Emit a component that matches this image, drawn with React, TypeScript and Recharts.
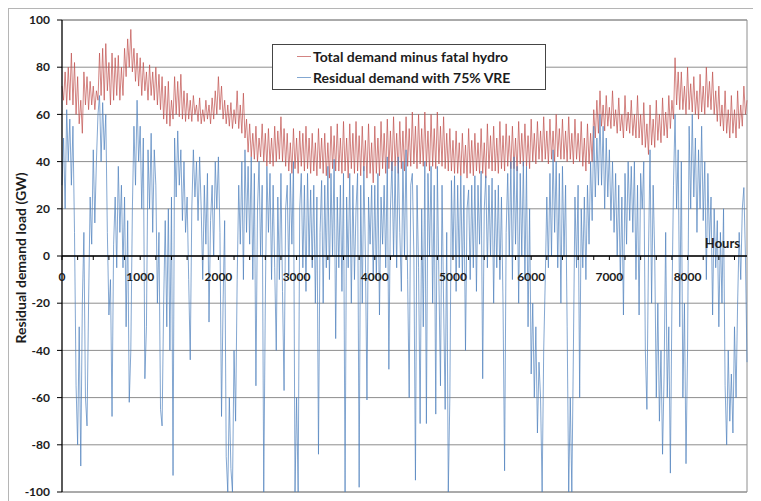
import React from 'react';
import { LineChart, Line, XAxis, YAxis, CartesianGrid, ReferenceLine, Legend } from 'recharts';

const SAMPLE_STEP_H = 20;

const TOTAL_DEMAND: number[] = [
  72, 66, 78, 64, 80, 66, 86, 64, 82, 60, 76, 56, 66, 52, 78, 64, 76, 62, 74, 64,
  72, 62, 70, 66, 86, 68, 88, 66, 90, 70, 82, 64, 86, 66, 84, 68, 85, 66, 80, 68,
  88, 76, 92, 80, 96, 78, 88, 74, 86, 72, 84, 68, 82, 70, 78, 66, 81, 68, 78, 66,
  80, 64, 77, 62, 76, 58, 72, 56, 74, 55, 66, 58, 76, 60, 74, 59, 77, 58, 70, 57,
  69, 58, 66, 57, 68, 60, 64, 57, 67, 56, 62, 57, 66, 58, 64, 56, 67, 58, 70, 60,
  76, 62, 72, 58, 66, 56, 64, 55, 65, 54, 62, 56, 70, 54, 64, 52, 69, 50, 58, 44,
  56, 42, 52, 41, 55, 40, 50, 42, 56, 40, 52, 38, 54, 39, 50, 38, 55, 40, 53, 41,
  59, 40, 54, 38, 52, 36, 48, 35, 54, 37, 50, 35, 53, 38, 52, 36, 55, 37, 50, 35,
  52, 36, 48, 34, 54, 37, 50, 35, 52, 34, 48, 33, 55, 37, 51, 36, 56, 36, 50, 35,
  57, 36, 50, 33, 56, 37, 52, 35, 57, 36, 51, 34, 55, 36, 49, 33, 56, 35, 48, 31,
  55, 35, 50, 34, 57, 37, 52, 35, 58, 37, 53, 36, 59, 38, 52, 35, 57, 37, 53, 36,
  59, 38, 54, 38, 61, 39, 55, 37, 60, 39, 54, 38, 61, 38, 53, 36, 60, 38, 54, 37,
  61, 39, 55, 38, 59, 37, 52, 36, 54, 36, 49, 35, 53, 35, 48, 34, 52, 35, 47, 33,
  54, 35, 49, 34, 52, 36, 48, 35, 54, 35, 48, 33, 56, 37, 51, 36, 55, 36, 50, 35,
  57, 37, 51, 36, 56, 38, 51, 37, 55, 37, 50, 36, 57, 39, 52, 38, 56, 38, 51, 37,
  58, 40, 52, 39, 57, 41, 53, 40, 59, 41, 53, 39, 58, 41, 53, 40, 60, 42, 54, 41,
  58, 41, 53, 40, 59, 41, 52, 39, 58, 41, 52, 40, 57, 38, 50, 36, 56, 39, 52, 40,
  62, 50, 66, 52, 70, 55, 64, 53, 68, 55, 63, 54, 70, 55, 62, 52, 67, 53, 60, 50,
  68, 53, 61, 52, 66, 51, 60, 50, 68, 50, 60, 47, 65, 46, 56, 43, 64, 47, 58, 46,
  66, 49, 60, 48, 67, 51, 61, 50, 68, 54, 66, 58, 84, 64, 78, 62, 78, 62, 72, 60,
  80, 62, 73, 61, 76, 60, 70, 58, 77, 61, 72, 60, 80, 63, 74, 62, 78, 60, 70, 57,
  72, 55, 64, 53, 70, 52, 62, 50, 68, 52, 62, 50, 70, 54, 64, 55, 72, 60, 66,
];

const RESIDUAL_DEMAND: number[] = [
  30, 50, 20, 62, 40, 58, 30, 55, 10, -55, -80, -30, -89, -20, 10, -60, -72, -20, 25, 5,
  45, 14, 40, 60, 68, 40, 65, 45, 60, 10, -25, -10, -68, 5, 25, -5, 38, 10, 30, -5,
  25, -30, 15, -62, -40, 20, 55, 30, 66, 40, 55, 20, 50, -52, -30, 45, 20, 52, 10, 45,
  30, -20, 10, -65, -72, -20, 15, -30, 20, -40, 25, -93, 50, 25, 53, 30, 45, 15, 40, 10,
  25, -10, -44, 20, 45, 25, 40, 15, 42, 20, -10, 30, 5, 35, -28, 15, 30, 0, 40, 20,
  42, 10, -68, -20, 15, -85, -100, -60, -90, -100, -40, -70, -10, 30, 5, 40, -10, 45, 10, 38,
  5, 42, -10, 35, -55, 20, 40, 0, 30, -100, -20, 38, 10, 35, -10, 30, -5, -40, 25, -10,
  35, -15, -57, 20, 30, -8, 35, 5, 40, -100, -60, -100, 20, 35, -5, 30, -15, 35, 0, 28,
  -5, 30, -20, 25, -84, 10, 32, -20, 30, -5, 38, -10, 35, 0, 41, -35, 25, -5, 30, -15,
  35, -100, 25, -5, 35, -20, 30, -10, 20, 35, -98, 30, -20, 38, 0, -61, 25, 5, 30, -10,
  30, -10, 35, -25, 25, 5, 30, -5, 42, -48, 20, 40, 0, 38, -5, 42, 10, -15, 40, 0,
  45, -10, -60, 30, 35, 0, -95, 30, -5, -71, 20, -30, 40, -71, 35, 0, 38, -20, 30, -67,
  38, -10, -55, 30, -20, -65, 10, -100, -60, 32, 0, 34, -15, 30, -5, 34, -10, 30, -40, 20,
  28, -10, 30, -5, 34, -15, 30, 5, 36, -52, 20, 34, -5, 30, 0, 33, -20, 28, -5, 30,
  -10, 25, -20, -91, 10, 35, 0, 40, -10, 42, 5, 38, -20, 35, 0, 40, -10, 38, -30, 20,
  -50, -20, -60, -30, -75, -45, -60, -100, -40, -10, 25, -5, 35, 0, 45, 10, 40, -5, 35, -20,
  38, 0, 30, -30, -100, -60, -100, -40, 25, -5, 30, -60, 20, -5, 25, -10, 30, 5, 40, 15,
  55, 25, 50, 30, 60, 30, 55, 20, 50, 25, 45, 15, 40, 10, 35, 0, 30, -10, 25, -25,
  35, 5, 40, 15, 38, 10, 40, -10, 30, -25, 35, 20, 40, -40, -65, 0, 45, -20, 30, 0,
  -60, -20, -70, -40, -84, -50, 10, -60, -30, -92, -20, 30, 60, 20, 45, -30, 40, -60, -20, -88,
  -40, 55, 20, 60, 25, 50, 10, 45, 20, 55, 15, 40, -10, 35, 5, 25, -25, 20, -5, 15,
  -30, 10, -20, 20, -55, -80, -40, -70, -50, -75, -30, -60, -20, 10, -10, 20, 29, 0, -45,
];

const HOURS: number[] = TOTAL_DEMAND.map((_, i) => i * SAMPLE_STEP_H);

const X_TICKS: number[] = [
  0, 200, 400, 600, 800, 1000, 1200, 1400, 1600, 1800, 2000, 2200, 2400, 2600, 2800,
  3000, 3200, 3400, 3600, 3800, 4000, 4200, 4400, 4600, 4800, 5000, 5200, 5400, 5600,
  5800, 6000, 6200, 6400, 6600, 6800, 7000, 7200, 7400, 7600, 7800, 8000, 8200, 8400, 8600,
];
const X_LABELS: number[] = [0, 1000, 2000, 3000, 4000, 5000, 6000, 7000, 8000];
const Y_TICKS: number[] = [-100, -80, -60, -40, -20, 0, 20, 40, 60, 80, 100];

const SERIES = [
  { key: 'total', name: 'Total demand minus fatal hydro', color: '#C0504D' },
  { key: 'residual', name: 'Residual demand with 75% VRE', color: '#4F81BD' },
];

const data = HOURS.map((h, i) => ({ h, total: TOTAL_DEMAND[i], residual: RESIDUAL_DEMAND[i] }));

const CHART_W = 752;
const CHART_H = 492;
const MARGIN = { top: 11, right: 14, bottom: 0, left: 9 };
const X_AXIS_H = 9;
const PLOT_H = CHART_H - MARGIN.top - MARGIN.bottom - X_AXIS_H;
const FONT = 'Lato, "Open Sans", sans-serif';
const TEXT_COLOR = '#1c1c1c';
const GRID_COLOR = '#8e8e8e';

const XTick = (props: any) => {
  const { x, y, payload } = props;
  const y0 = y - PLOT_H / 2;
  const showLabel = X_LABELS.includes(payload.value);
  return (
    <g>
      <line x1={x} x2={x} y1={y0} y2={y0 + 4} stroke="#000" strokeWidth={1} />
      {showLabel && (
        <text x={x} y={y0 + 24.5} textAnchor="middle" fontFamily={FONT} fontWeight={700} fontSize={12} fill={TEXT_COLOR}>
          {payload.value}
        </text>
      )}
    </g>
  );
};

const YLabel = (props: any) => {
  const vb = props.viewBox || { x: 0, y: 0, width: 0, height: 0 };
  const cx = vb.x + 2;
  const cy = vb.y + vb.height / 2 + 2;
  return (
    <text
      x={cx}
      y={cy}
      transform={`rotate(-90, ${cx}, ${cy})`}
      textAnchor="middle"
      dominantBaseline="central"
      fontFamily={FONT}
      fontWeight={700}
      fontSize={14}
      fill={TEXT_COLOR}
    >
      Residual demand load (GW)
    </text>
  );
};

const HoursLabel = (props: any) => {
  const vb = props.viewBox || { x: 0, y: 0, width: 0, height: 0 };
  return (
    <text x={vb.x + vb.width - 7} y={vb.y - 8} textAnchor="end" fontFamily={FONT} fontWeight={700} fontSize={13} fill={TEXT_COLOR}>
      Hours
    </text>
  );
};

const LegendBox = () => (
  <div
    style={{
      border: '1px solid #454545',
      background: '#fff',
      width: 274,
      height: 46,
      boxSizing: 'border-box',
      paddingTop: 1,
      fontFamily: FONT,
      fontWeight: 700,
      fontSize: 14,
      color: TEXT_COLOR,
    }}
  >
    {SERIES.map((s) => (
      <div key={s.key} style={{ display: 'flex', alignItems: 'center', height: 21 }}>
        <span style={{ display: 'inline-block', width: 14, height: 1, background: s.color, marginLeft: 24, marginRight: 2, opacity: 0.7 }} />
        <span style={{ whiteSpace: 'nowrap' }}>{s.name}</span>
      </div>
    ))}
  </div>
);

export default function App() {
  return (
    <div style={{ borderTop: '1px solid #b5b5b5', borderLeft: '1px solid #b5b5b5', width: 753, height: 493, background: '#fff' }}>
      <LineChart width={CHART_W} height={CHART_H} data={data} margin={MARGIN}>
        <CartesianGrid vertical={false} stroke={GRID_COLOR} strokeWidth={1} />
        <XAxis
          dataKey="h"
          type="number"
          domain={[0, 8760]}
          ticks={X_TICKS}
          interval={0}
          height={X_AXIS_H}
          tickSize={0}
          tickMargin={0}
          axisLine={false}
          tickLine={false}
          tick={<XTick />}
        />
        <YAxis
          type="number"
          domain={[-100, 100]}
          ticks={Y_TICKS}
          interval={0}
          width={44}
          tickSize={5}
          tickMargin={7}
          axisLine={{ stroke: '#000', strokeWidth: 1.3 }}
          tickLine={{ stroke: '#000' }}
          tick={{ fontFamily: FONT, fontWeight: 700, fontSize: 12, fill: TEXT_COLOR }}
          label={<YLabel />}
        />
        <ReferenceLine y={100} stroke={GRID_COLOR} />
        <ReferenceLine y={-100} stroke={GRID_COLOR} />
        <ReferenceLine x={8760} stroke={GRID_COLOR} />
        <Line
          type="linear"
          dataKey="total"
          name={SERIES[0].name}
          stroke={SERIES[0].color}
          strokeWidth={0.7}
          dot={false}
          isAnimationActive={false}
        />
        <Line
          type="linear"
          dataKey="residual"
          name={SERIES[1].name}
          stroke={SERIES[1].color}
          strokeWidth={0.7}
          dot={false}
          isAnimationActive={false}
        />
        <ReferenceLine y={0} stroke="#000" strokeWidth={1.3} label={<HoursLabel />} />
        <Legend
          layout="vertical"
          align="center"
          verticalAlign="middle"
          content={<LegendBox />}
          wrapperStyle={{ left: 263, top: 35, width: 274, height: 46 }}
        />
      </LineChart>
    </div>
  );
}
